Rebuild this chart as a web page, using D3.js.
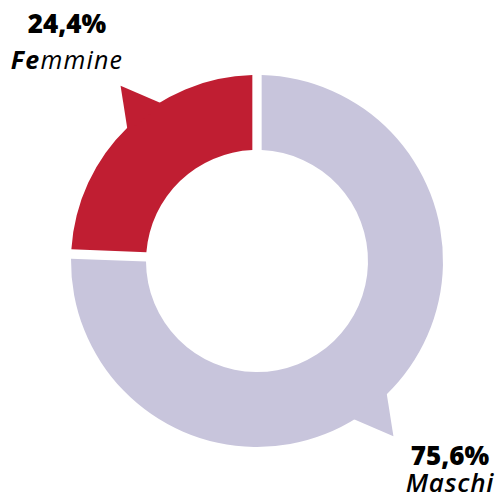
<!DOCTYPE html>
<html>
<head>
<meta charset="utf-8">
<script src="https://cdn.jsdelivr.net/npm/d3@7"></script>
<style>
  body{margin:0;background:#fff;}
  svg{display:block;}
</style>
</head>
<body>
<div id="chart"></div>
<script>
// dati
var categories = ["Femmine", "Maschi"];
var values = [24.4, 75.6];
var colors = ["#c01e32", "#c8c5dc"];

var width = 496, height = 500;
var cx = 257, cy = 261;
var outerR = 186, innerR = 111;

var itFormat = d3.formatLocale({decimal: ",", thousands: ".", grouping: [3], currency: ["", "€"]}).format(".1f");

var svg = d3.select("#chart")
    .append("svg")
    .attr("width", width)
    .attr("height", height);

var data = categories.map(function(c, i){ return {name: c, value: values[i]}; });

var start = -values[0] / d3.sum(values) * 2 * Math.PI;
var pie = d3.pie()
    .sort(null)
    .value(function(d){ return d.value; })
    .startAngle(start)
    .endAngle(start + 2 * Math.PI);

var arcs = pie(data);

var arc = d3.arc()
    .innerRadius(innerR)
    .outerRadius(outerR)
    .padAngle(0.043);

var g = svg.append("g").attr("transform", "translate(" + cx + "," + cy + ")");

// punta del fumetto su ogni fetta
function pointerPath(d){
    var mid = (d.startAngle + d.endAngle) / 2 + 6 * Math.PI / 180;
    var half = 7 * Math.PI / 180;
    var rb = outerR - 3, rt = outerR + 36;
    var p = function(a, r){ return [r * Math.sin(a), -r * Math.cos(a)]; };
    return "M" + p(mid - half, rb) + "L" + p(mid, rt) + "L" + p(mid + half, rb) + "Z";
}

g.selectAll("path.slice")
    .data(arcs)
    .enter()
    .append("path")
    .attr("class", "slice")
    .attr("d", arc)
    .style("fill", function(d, i){ return colors[i]; });

g.selectAll("path.pointer")
    .data(arcs)
    .enter()
    .append("path")
    .attr("class", "pointer")
    .attr("d", pointerPath)
    .style("fill", function(d, i){ return colors[i]; });

// etichette
var labelPos = [{x: 67, y1: 33, y2: 69}, {x: 450, y1: 465, y2: 492}];

var labels = svg.selectAll("g.label")
    .data(data)
    .enter()
    .append("g")
    .attr("class", "label");

labels.append("text")
    .attr("x", function(d, i){ return labelPos[i].x; })
    .attr("y", function(d, i){ return labelPos[i].y1; })
    .attr("text-anchor", "middle")
    .style("font-family", "'Open Sans', sans-serif")
    .style("font-weight", 800)
    .style("font-size", "26px")
    .style("fill", "#000")
    .text(function(d){ return itFormat(d.value) + "%"; });

var names = labels.append("text")
    .attr("x", function(d, i){ return labelPos[i].x; })
    .attr("y", function(d, i){ return labelPos[i].y2; })
    .attr("text-anchor", "middle")
    .style("font-family", "'Open Sans', sans-serif")
    .style("font-style", "italic")
    .style("font-size", function(d, i){ return i == 0 ? "25px" : "26px"; })
    .style("letter-spacing", function(d, i){ return i == 0 ? "1.2px" : "0.8px"; })
    .style("fill", "#000");

names.each(function(d, i){
    var t = d3.select(this);
    if(i == 0){
        t.append("tspan").style("font-weight", 700).text(d.name.substr(0, 2));
        t.append("tspan").text(d.name.substr(2));
    }else{
        t.style("font-weight", 600).text(d.name);
    }
});
</script>
</body>
</html>
